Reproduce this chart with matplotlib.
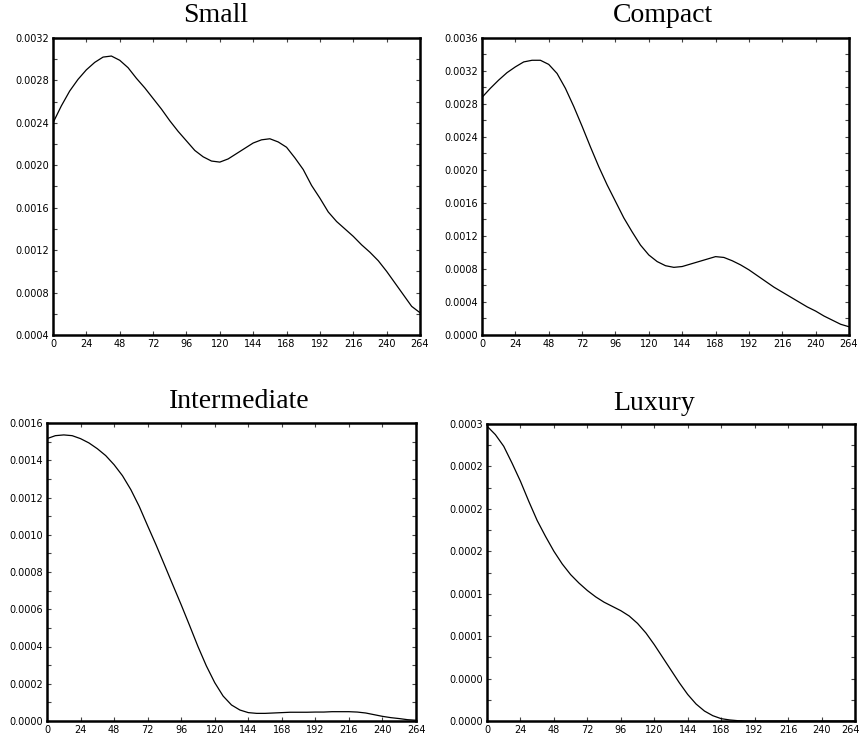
import numpy as np
import matplotlib
matplotlib.use("Agg")
import matplotlib.pyplot as plt
from matplotlib.ticker import MultipleLocator, FormatStrFormatter, FuncFormatter

# horizontal positions (0..264, step 6)
x = np.arange(0, 265, 6)

small = [0.00240, 0.00256, 0.00270, 0.00281, 0.00290, 0.00297, 0.00302, 0.00303,
         0.00299, 0.00292, 0.00282, 0.00273, 0.00263, 0.00253, 0.00242, 0.00232,
         0.00223, 0.00214, 0.00208, 0.00204, 0.00203, 0.00206, 0.00211, 0.00216,
         0.00221, 0.00224, 0.00225, 0.00222, 0.00217, 0.00207, 0.00196, 0.00181,
         0.00169, 0.00156, 0.00147, 0.00140, 0.00133, 0.00125, 0.00118, 0.00110,
         0.00100, 0.00089, 0.00078, 0.00067, 0.00061]

compact = [0.00288, 0.00299, 0.00309, 0.00318, 0.00325, 0.00331, 0.00333, 0.00333,
           0.00328, 0.00317, 0.00299, 0.00277, 0.00253, 0.00228, 0.00204, 0.00182,
           0.00162, 0.00142, 0.00125, 0.00109, 0.00097, 0.00089, 0.00084, 0.00082,
           0.00083, 0.00086, 0.00089, 0.00092, 0.00095, 0.00094, 0.00090, 0.00085,
           0.00079, 0.00072, 0.00065, 0.00058, 0.00052, 0.00046, 0.00040, 0.00034,
           0.00029, 0.00023, 0.00018, 0.00013, 0.00010]

intermediate = [0.001516, 0.001532, 0.001536, 0.001532, 0.001516, 0.001493, 0.001462,
                0.001425, 0.001376, 0.001317, 0.001242, 0.001152, 0.001048, 0.000946,
                0.000839, 0.000731, 0.000624, 0.000513, 0.000400, 0.000296, 0.000206,
                0.000134, 0.000086, 0.000059, 0.000045, 0.000041, 0.000041, 0.000043,
                0.000045, 0.000047, 0.000047, 0.000047, 0.000048, 0.000048, 0.000050,
                0.000050, 0.000050, 0.000048, 0.000043, 0.000034, 0.000025, 0.000018,
                0.000013, 0.000007, 0.000004]

luxury = [0.000278, 0.000270, 0.000259, 0.000243, 0.000226, 0.000207, 0.000189,
          0.000174, 0.000160, 0.000148, 0.000138, 0.000130, 0.000123, 0.000117,
          0.000112, 0.000108, 0.000104, 0.000099, 0.000092, 0.000083, 0.000072,
          0.000060, 0.000048, 0.000036, 0.000025, 0.000016, 0.0000094, 0.000005,
          0.0000022, 0.000001, 0.0000003, 0.0, 0.0, 0.0, 0.0, 0.0, 0.0, 0.0,
          0.0, 0.0, 0.0, 0.0, 0.0, 0.0, 0.0]

titles = ["Small", "Compact", "Intermediate", "Luxury"]
series = [small, compact, intermediate, luxury]
ylims = [(0.0004, 0.0032), (0.0, 0.0036), (0.0, 0.0016), (0.0, 0.00028)]
ysteps = [0.0004, 0.0004, 0.0002, 0.00004]

W, H = 862, 740
# axes boxes in pixels: left, right, top, bottom
boxes = [(53, 420, 38, 335), (482, 849, 38, 335),
         (47, 416, 423, 721), (487, 855, 424, 721)]
title_pos = [(216, 16), (663, 16), (239, 402), (654, 404)]

fig = plt.figure(figsize=(W / 100, H / 100), dpi=100)

for i in range(4):
    l, r, t, b = boxes[i]
    ax = fig.add_axes([l / W, 1 - b / H, (r - l) / W, (b - t) / H])
    ax.plot(x, series[i], color="black", lw=0.9)
    ax.set_xlim(0, 264)
    ax.set_ylim(*ylims[i])
    ax.xaxis.set_major_locator(MultipleLocator(24))
    ax.yaxis.set_major_locator(MultipleLocator(ysteps[i]))
    ax.yaxis.set_minor_locator(MultipleLocator(ysteps[i] / 2))
    ax.yaxis.set_major_formatter(FormatStrFormatter("%.4f"))
    ax.tick_params(which="both", direction="in", top=True, right=True,
                   length=3, width=0.8, color="#444444", labelsize=7, pad=3)
    for s in ax.spines.values():
        s.set_linewidth(1.8)
    tx, ty = title_pos[i]
    fig.text(tx / W, 1 - ty / H, titles[i], ha="center", va="center",
             family="Liberation Serif", fontsize=20)
    if i == 3:
        # last tick label would run off the right edge: draw it a bit further in
        ax.xaxis.set_major_formatter(FuncFormatter(lambda v, p: "" if v >= 264 else "%d" % v))
        ax.annotate("264", xy=(264, 0), xycoords=("data", "axes fraction"),
                    xytext=(-3.5, -3), textcoords="offset points",
                    ha="center", va="top", fontsize=7)

fig.savefig("out.png", dpi=100)
